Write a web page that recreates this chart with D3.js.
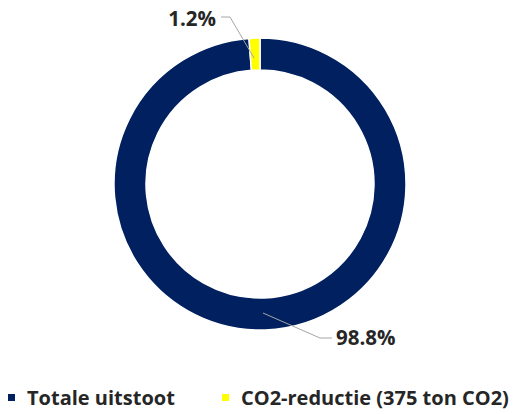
<!DOCTYPE html>
<html>
<head>
<meta charset="utf-8">
<script src="https://cdn.jsdelivr.net/npm/d3@7"></script>
<style>
  body { margin: 0; background: #fff; }
  svg { display: block; }
</style>
</head>
<body>
<svg id="chart"></svg>
<script>
const categories = ['Totale uitstoot', 'CO2-reductie (375 ton CO2)']
const values = [98.8, 1.2]
const labels = ['98.8%', '1.2%']
const colors = ['#002060', '#FFFF00']

const width = 519, height = 414
const cx = 260, cy = 184
const outerR = 146, innerR = 114

const svg = d3.select('#chart')
  .attr('width', width)
  .attr('height', height)
  .style('font-family', "'Open Sans', sans-serif")

const data = categories.map((c, i) => ({ category: c, value: values[i], label: labels[i], color: colors[i] }))

const pie = d3.pie().sort(null).value(d => d.value)
const arc = d3.arc().innerRadius(innerR).outerRadius(outerR)

const g = svg.append('g').attr('transform', 'translate(' + cx + ',' + cy + ')')

const arcs = pie(data)

g.selectAll('path')
  .data(arcs)
  .join('path')
    .attr('d', arc)
    .attr('fill', d => d.data.color)
    .attr('stroke', '#fff')
    .attr('stroke-width', 1.5)

// leader lines + labels (placed like the original)
const pos = [
  { // 98.8%
    pts: [[263 - cx, 313 - cy], [320 - cx, 338 - cy], [332 - cx, 338 - cy]],
    text: [336 - cx, 338 - cy], anchor: 'start'
  },
  { // 1.2%
    pts: [[254 - cx, 58 - cy], [230 - cx, 17 - cy], [221 - cx, 17 - cy]],
    text: [216 - cx, 19 - cy], anchor: 'end'
  }
]

arcs.forEach(d => {
  const p = pos[d.index]
  g.append('polyline')
    .attr('points', p.pts.map(q => q.join(',')).join(' '))
    .attr('fill', 'none')
    .attr('stroke', '#a6a6a6')
    .attr('stroke-width', 1)
  g.append('text')
    .attr('x', p.text[0])
    .attr('y', p.text[1])
    .attr('dy', '0.35em')
    .attr('text-anchor', p.anchor)
    .attr('font-size', 20.5)
    .attr('font-weight', 'bold')
    .attr('fill', '#262626')
    .text(d.data.label)
})

// legend
const legendX = [8, 222]
const legend = svg.append('g')
  .selectAll('g')
  .data(data)
  .join('g')
    .attr('transform', (d, i) => 'translate(' + legendX[i] + ',398)')

legend.append('rect')
  .attr('x', 0).attr('y', -4)
  .attr('width', 7).attr('height', 7)
  .attr('fill', d => d.color)

legend.append('text')
  .attr('x', 19)
  .attr('dy', '0.35em')
  .attr('font-size', 20)
  .attr('font-weight', 'bold')
  .attr('fill', '#262626')
  .text(d => d.category)
</script>
</body>
</html>
